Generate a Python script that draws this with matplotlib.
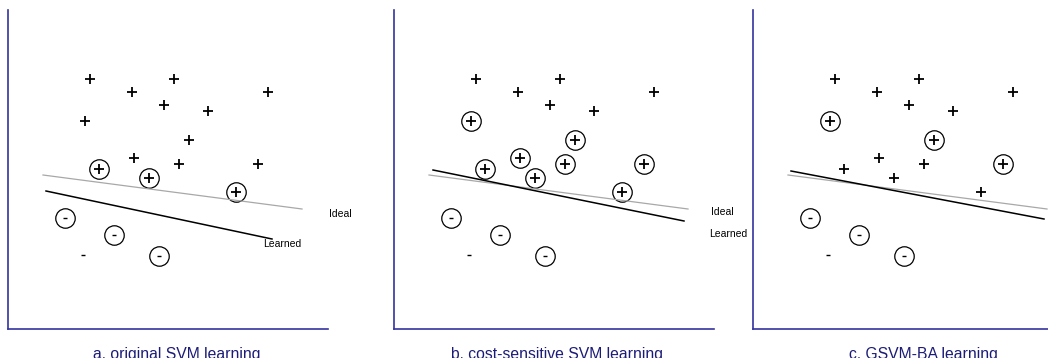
import numpy as np
import matplotlib.pyplot as plt

# Shared toy dataset (same points in every panel), x/y in panel units
pos_x = [82, 166, 124, 260, 156, 200, 77, 181, 126, 171, 250, 91, 141, 228]
pos_y = [250, 250, 237, 237, 224, 218, 208, 189, 171, 165, 165, 160, 151, 137]
neg_x = [57, 106, 151, 75]
neg_y = [111, 94, 73, 74]

# which points are support vectors (circled) in each panel
pos_circled = [
    [0, 0, 0, 0, 0, 0, 0, 0, 0, 0, 0, 1, 1, 1],
    [0, 0, 0, 0, 0, 0, 1, 1, 1, 1, 1, 1, 1, 1],
    [0, 0, 0, 0, 0, 0, 1, 1, 0, 0, 1, 0, 0, 0],
]
neg_circled = [1, 1, 1, 0]

# hyperplanes: (x0, y0, x1, y1)
ideal_line = (35, 154, 294, 120)
learned_lines = [
    (38, 138, 264, 90),
    (39, 159, 290, 108),
    (38, 158, 291, 110),
]

captions = [
    "a. original SVM learning",
    "b. cost-sensitive SVM learning",
    "c. GSVM-BA learning",
]
caption_x = [0.528, 0.51, 0.534]

# line label positions per panel (None = not shown)
ideal_label = [(321, 115), (317, 117), None]
learned_label = [(255, 85), (315, 95), None]

W, H = 1048, 358
panel_left = [8, 394, 753]
panel_w, panel_h = 320, 319
panel_bottom = 29

AXIS_COLOR = "#34349f"
CAPTION_COLOR = "#1c1c78"

fig = plt.figure(figsize=(W / 100, H / 100), dpi=100)

for i in range(3):
    ax = fig.add_axes([panel_left[i] / W, panel_bottom / H, panel_w / W, panel_h / H])
    ax.set_xlim(0, panel_w)
    ax.set_ylim(0, panel_h)
    ax.set_xticks([])
    ax.set_yticks([])
    for side in ("top", "right"):
        ax.spines[side].set_visible(False)
    for side in ("left", "bottom"):
        ax.spines[side].set_color(AXIS_COLOR)
        ax.spines[side].set_linewidth(1.2)

    px = np.array(pos_x)
    py = np.array(pos_y)
    pc = np.array(pos_circled[i], dtype=bool)
    nx = np.array(neg_x)
    ny = np.array(neg_y)
    nc = np.array(neg_circled, dtype=bool)

    # positive samples
    ax.plot(px, py, "+", color="black", markersize=6.5, markeredgewidth=1.3)
    ax.plot(px[pc], py[pc], "o", markerfacecolor="none", markeredgecolor="black",
            markersize=14, markeredgewidth=0.9)

    # negative samples
    ax.plot(nx, ny, "_", color="black", markersize=3.5, markeredgewidth=1.0)
    ax.plot(nx[nc], ny[nc], "o", markerfacecolor="none", markeredgecolor="black",
            markersize=14, markeredgewidth=0.9)

    x0, y0, x1, y1 = ideal_line
    ax.plot([x0, x1], [y0, y1], color="#a8a8a8", linewidth=0.9)
    x0, y0, x1, y1 = learned_lines[i]
    ax.plot([x0, x1], [y0, y1], color="black", linewidth=1.1)

    if ideal_label[i] is not None:
        ax.text(*ideal_label[i], "Ideal", fontsize=7.5, family="Liberation Sans",
                ha="left", va="center", clip_on=False)
    if learned_label[i] is not None:
        ax.text(*learned_label[i], "Learned", fontsize=7.5, family="Liberation Sans",
                ha="left", va="center", clip_on=False)

    ax.text(caption_x[i], -0.094, captions[i], transform=ax.transAxes,
            fontsize=11.3, family="Liberation Sans", color=CAPTION_COLOR,
            ha="center", va="baseline", clip_on=False)

fig.savefig("out.png", dpi=100, facecolor="white")
